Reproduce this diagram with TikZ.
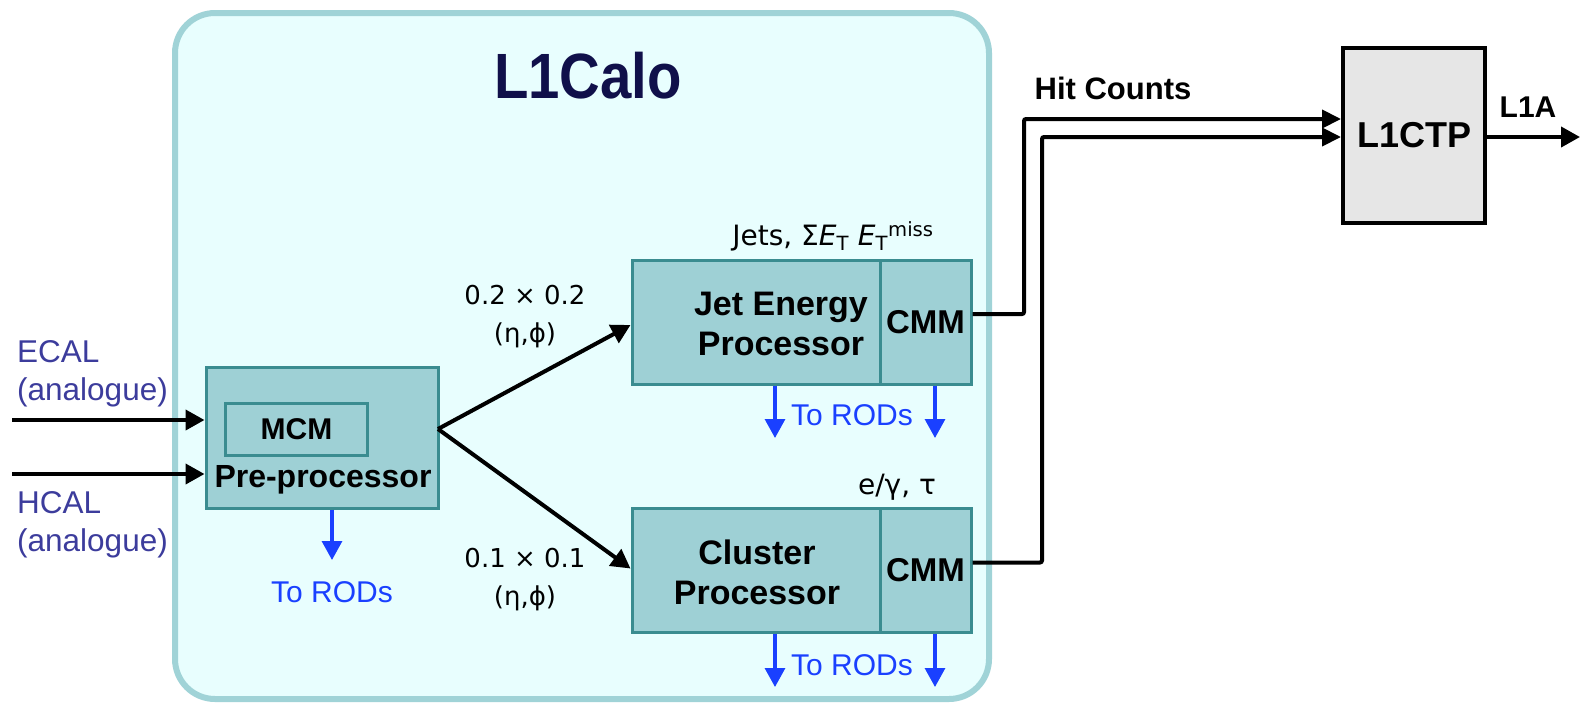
\documentclass[tikz,border=0pt]{standalone}
\usepackage{fontspec}
\setmainfont{Liberation Sans}
\newfontfamily\dvs{DejaVu Sans}
\usetikzlibrary{arrows.meta}
\definecolor{boxbg}{HTML}{E8FEFE}
\definecolor{boxedge}{HTML}{A0D3D7}
\definecolor{procfill}{HTML}{9ED0D5}
\definecolor{procedge}{HTML}{3A8C90}
\definecolor{inlabel}{HTML}{3C3C9C}
\definecolor{rodblue}{HTML}{1A40FF}
\definecolor{navy}{HTML}{10104A}
\definecolor{ctpfill}{HTML}{E6E6E6}
\tikzset{
  proc/.style={draw=procedge, fill=procfill, line width=3pt, inner sep=0pt},
  btxt/.style={font=\fontsize{34}{40}\selectfont\bfseries, inner sep=0pt, align=center},
  inlab/.style={font=\fontsize{31.5}{38}\selectfont, text=inlabel, inner sep=0pt, align=left, anchor=north west},
  rodtxt/.style={font=\fontsize{30}{36}\selectfont, text=rodblue, inner sep=0pt},
  gtxt/.style={font=\fontsize{26}{38}\selectfont\dvs, inner sep=0pt, align=center},
  arr/.style={line width=4pt, -{Triangle[length=19pt,width=20pt]}},
  rod/.style={draw=rodblue, line width=3.2pt, -{Triangle[length=19pt,width=20pt]}},
  hit/.style={line width=4pt, rounded corners=2pt, -{Triangle[length=19pt,width=18pt]}}
}
\begin{document}
\begin{tikzpicture}[x=1pt,y=-1pt]
\useasboundingbox (0,0) rectangle (1580,702);
% L1Calo container
\node (calo) [draw=boxedge, fill=boxbg, line width=6pt, rounded corners=40pt,
  minimum width=814pt, minimum height=686pt, inner sep=0pt] at (582,356) {};
\node (title) [text=navy, inner sep=0pt, font=\fontsize{64}{70}\selectfont\bfseries] at (588,76) {\scalebox{0.88}[1]{L1Calo}};

% inputs
\node (ecal) [inlab] at (17,340) {ECAL\\(analogue)};
\node (hcal) [inlab] at (17,491) {HCAL\\(analogue)};

% pre-processor
\node (pre) [proc, minimum width=232pt, minimum height=141pt] at (322,437.5) {};
\node (mcm) [proc, minimum width=142pt, minimum height=52pt, font=\fontsize{30}{36}\selectfont\bfseries] at (296.5,429.5) {MCM};
\node (prelab) [font=\fontsize{32}{36}\selectfont\bfseries, inner sep=0pt] at (323,480) {Pre-processor};
\coordinate (ein) at (12,420);
\coordinate (hin) at (12,474);
\draw[arr] (ein) -- (pre.west |- ein);
\draw[arr] (hin) -- (pre.west |- hin);
\coordinate (preRod) at (332,560);
\draw[rod] (pre.south -| preRod) -- (preRod);
\node (prerodlab) [rodtxt] at (332,592) {To RODs};

% Jet energy processor
\node (jep) [proc, minimum width=248pt, minimum height=124pt] at (756,322) {};
\node (jeplab) [btxt] at (781,324) {Jet Energy\\Processor};
\node (cmm1) [proc, minimum width=91pt, minimum height=124pt, font=\fontsize{33}{36}\selectfont\bfseries] at (925.5,322) {CMM};
\node (jets) [gtxt, font=\fontsize{28}{34}\selectfont\dvs] at (833,236) {Jets, Σ\textit{E}\textsubscript{T} \textit{E}\textsubscript{T}\textsuperscript{miss}};
\coordinate (jr1) at (775,438);
\coordinate (jr2) at (935,438);
\draw[rod] (jep.south -| jr1) -- (jr1);
\draw[rod] (cmm1.south -| jr2) -- (jr2);
\node (jeprodlab) [rodtxt] at (852,415) {To RODs};

% Cluster processor
\node (cp) [proc, minimum width=248pt, minimum height=124pt] at (756,570.5) {};
\node (cplab) [btxt] at (757,572) {Cluster\\Processor};
\node (cmm2) [proc, minimum width=91pt, minimum height=124pt, font=\fontsize{33}{36}\selectfont\bfseries] at (925.5,570.5) {CMM};
\node (egt) [gtxt, font=\fontsize{28}{34}\selectfont\dvs] at (897,487) {e/γ, τ};
\coordinate (cr1) at (775,687);
\coordinate (cr2) at (935,687);
\draw[rod] (cp.south -| cr1) -- (cr1);
\draw[rod] (cmm2.south -| cr2) -- (cr2);
\node (cprodlab) [rodtxt] at (852,665) {To RODs};

% fork from pre-processor
\coordinate (fork) at (438,429);
\draw[arr] (fork) -- ([yshift=-3pt]jep.west);
\draw[arr] (fork) -- ([yshift=2pt]cp.west);
\node (g1) [gtxt] at (525,317) {0.2 × 0.2\\(η,ϕ)};
\node (g2) [gtxt] at (525,580) {0.1 × 0.1\\(η,ϕ)};

% L1CTP
\node (ctp) [draw=black, fill=ctpfill, line width=4pt, minimum width=142pt, minimum height=175pt, inner sep=0pt,
  font=\fontsize{36}{40}\selectfont\bfseries] at (1414,135.5) {L1CTP};
\node (hitlab) [font=\fontsize{31}{36}\selectfont\bfseries, inner sep=0pt] at (1113,88) {Hit Counts};
\coordinate (hc1) at (1024,119);
\coordinate (hc2) at (1042,137);
\draw[hit] ([yshift=8pt]cmm1.east) -| (hc1) -- (ctp.west |- hc1);
\draw[hit] ([yshift=8pt]cmm2.east) -| (hc2) -- (ctp.west |- hc2);
\node (l1alab) [font=\fontsize{30}{36}\selectfont\bfseries, inner sep=0pt] at (1528,107) {L1A};
\coordinate (l1aend) at (1580,137);
\draw[arr] (ctp.east |- l1aend) -- (l1aend);
\end{tikzpicture}
\end{document}
